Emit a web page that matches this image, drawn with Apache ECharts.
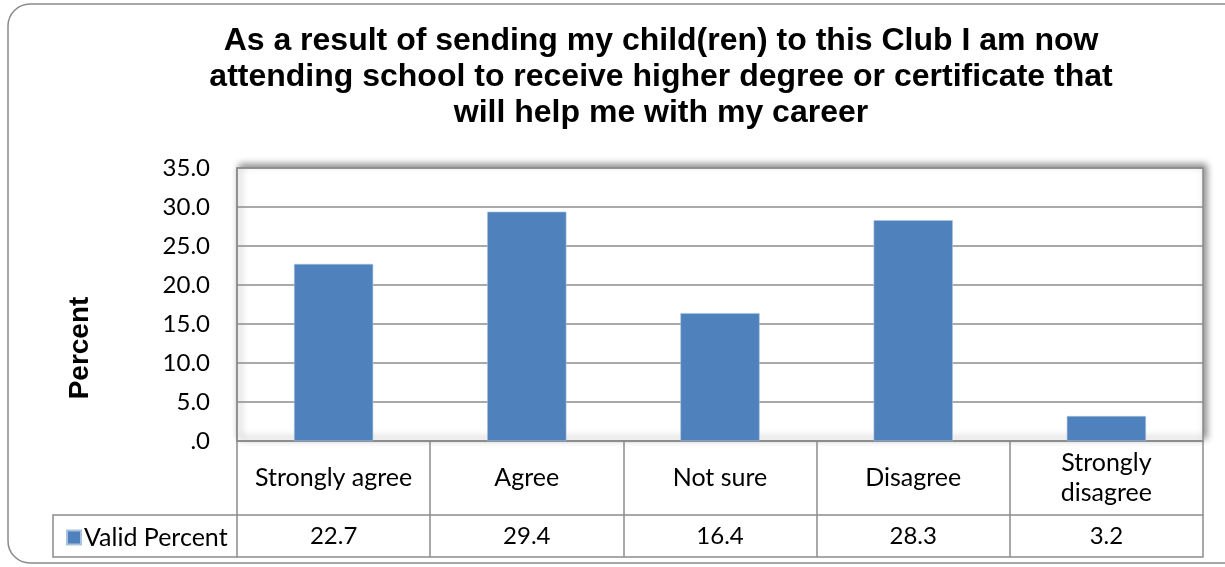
<!DOCTYPE html>
<html>
<head>
<meta charset="utf-8">
<script src="https://cdn.jsdelivr.net/npm/echarts@6/dist/echarts.min.js"></script>
<style>
  html, body { margin: 0; padding: 0; background: #fff; }
  #chart { width: 1225px; height: 567px; }
</style>
</head>
<body>
<div id="chart"></div>
<script>
// Survey answers and their valid percentages
const categories = ['Strongly agree', 'Agree', 'Not sure', 'Disagree', 'Strongly disagree'];
const validPercent = [22.7, 29.4, 16.4, 28.3, 3.2];
const seriesName = 'Valid Percent';
const axisTitle = 'Percent';
const titleLines = [
  'As a result of sending my child(ren) to this Club I am now',
  'attending school to receive higher degree or certificate that',
  'will help me with my career'
];

const BLUE = '#4F81BD';
const LINE = '#8c8c8c';
const TEXT_FONT = 'Lato, "Open Sans", sans-serif';
const BOLD_FONT = '"Liberation Sans", Arial, sans-serif';

// Plot rectangle
const G = { left: 237, right: 22, top: 168, bottom: 126 };
const W = 1225, H = 567;
const axisY = H - G.bottom;        // y of the category axis
const row1 = 74;                   // height of the category row of the data table
const row2 = 42;                   // height of the value row
const legendLeft = 53;

// Break long category names onto two lines
function wrapLabel(s) {
  if (s.length <= 14) return s;
  const i = s.lastIndexOf(' ');
  return i > 0 ? s.slice(0, i) + '\n' + s.slice(i + 1) : s;
}

const chart = echarts.init(document.getElementById('chart'), null, { renderer: 'canvas' });

chart.setOption({
  backgroundColor: '#fff',
  animation: false,
  title: {
    text: titleLines.join('\n'),
    left: 656, top: 18, textAlign: 'center',
    textStyle: {
      fontFamily: BOLD_FONT,
      fontWeight: 'bold', fontSize: 32, lineHeight: 36, color: '#000'
    }
  },
  legend: {
    show: true,
    left: legendLeft + 8, top: axisY + row1 + 5,
    itemWidth: 14, itemHeight: 14, itemGap: 6,
    icon: 'rect',
    textStyle: { fontFamily: TEXT_FONT, fontSize: 25, color: '#000', padding: [0, 0, 0, -2] },
    data: [seriesName],
    selectedMode: false
  },
  grid: {
    left: G.left, right: G.right, top: G.top, bottom: G.bottom,
    show: true,
    backgroundColor: '#fff',
    borderColor: LINE, borderWidth: 1.5,
    shadowColor: 'rgba(0,0,0,0.45)', shadowBlur: 7,
    shadowOffsetX: 3, shadowOffsetY: -3
  },
  xAxis: [
    {
      // Category row of the data table
      type: 'category',
      data: categories,
      position: 'bottom',
      boundaryGap: true,
      axisLine: { show: true, lineStyle: { color: LINE, width: 1.5 } },
      axisTick: { show: true, interval: 0, length: row1 + row2, alignWithLabel: false,
                  lineStyle: { color: LINE, width: 1.5 } },
      axisLabel: {
        interval: 0, hideOverlap: false,
        margin: row1 / 2, verticalAlign: 'middle', lineHeight: 30,
        fontFamily: TEXT_FONT, fontSize: 25, color: '#000',
        formatter: (v) => wrapLabel(v)
      },
      splitLine: { show: false }
    },
    {
      // Value row of the data table
      type: 'category',
      data: validPercent.map(v => v.toFixed(1)),
      position: 'bottom',
      offset: row1,
      boundaryGap: true,
      axisLine: { show: true, lineStyle: { color: LINE, width: 1.5 } },
      axisTick: { show: false },
      axisLabel: {
        interval: 0, hideOverlap: false,
        margin: row2 / 2, verticalAlign: 'middle',
        fontFamily: TEXT_FONT, fontSize: 24, color: '#000'
      }
    },
    {
      // Bottom edge of the data table
      type: 'category',
      data: categories,
      position: 'bottom',
      offset: row1 + row2,
      axisLine: { show: true, lineStyle: { color: LINE, width: 1.5 } },
      axisTick: { show: false },
      axisLabel: { show: false }
    }
  ],
  yAxis: {
    type: 'value',
    min: 0, max: 35, interval: 5,
    axisLine: { show: true, lineStyle: { color: LINE, width: 1.5 } },
    axisTick: { show: false },
    axisLabel: {
      margin: 27,
      fontFamily: TEXT_FONT, fontSize: 24, color: '#000',
      formatter: (v) => v === 0 ? '.0' : v.toFixed(1)
    },
    splitLine: { show: true, lineStyle: { color: LINE, width: 1.5 } }
  },
  series: [{
    name: seriesName,
    type: 'bar',
    xAxisIndex: 0,
    data: validPercent,
    barWidth: '41%',
    itemStyle: { color: BLUE, borderColor: '#a9c1e0', borderWidth: 0.6 }
  }]
});

// Axis title, legend cell of the data table and the rounded chart frame
const y1 = axisY + row1, y2 = axisY + row1 + row2;
chart.setOption({
  graphic: [
    {
      type: 'rect', silent: true, z: -10,
      shape: { x: 8, y: 4, width: 1260, height: 559, r: 22 },
      style: { fill: 'none', stroke: '#8a8a8a', lineWidth: 1.5 }
    },
    {
      type: 'polyline', silent: true, z: 10,
      shape: { points: [[G.left, y1], [legendLeft, y1], [legendLeft, y2], [G.left, y2]] },
      style: { stroke: LINE, lineWidth: 1.5, fill: 'none' }
    },
    {
      type: 'text', silent: true,
      x: 80, y: 348, rotation: Math.PI / 2,
      style: {
        text: axisTitle, fill: '#000',
        font: 'bold 28px ' + BOLD_FONT,
        align: 'center', verticalAlign: 'middle'
      }
    }
  ]
});
</script>
</body>
</html>
